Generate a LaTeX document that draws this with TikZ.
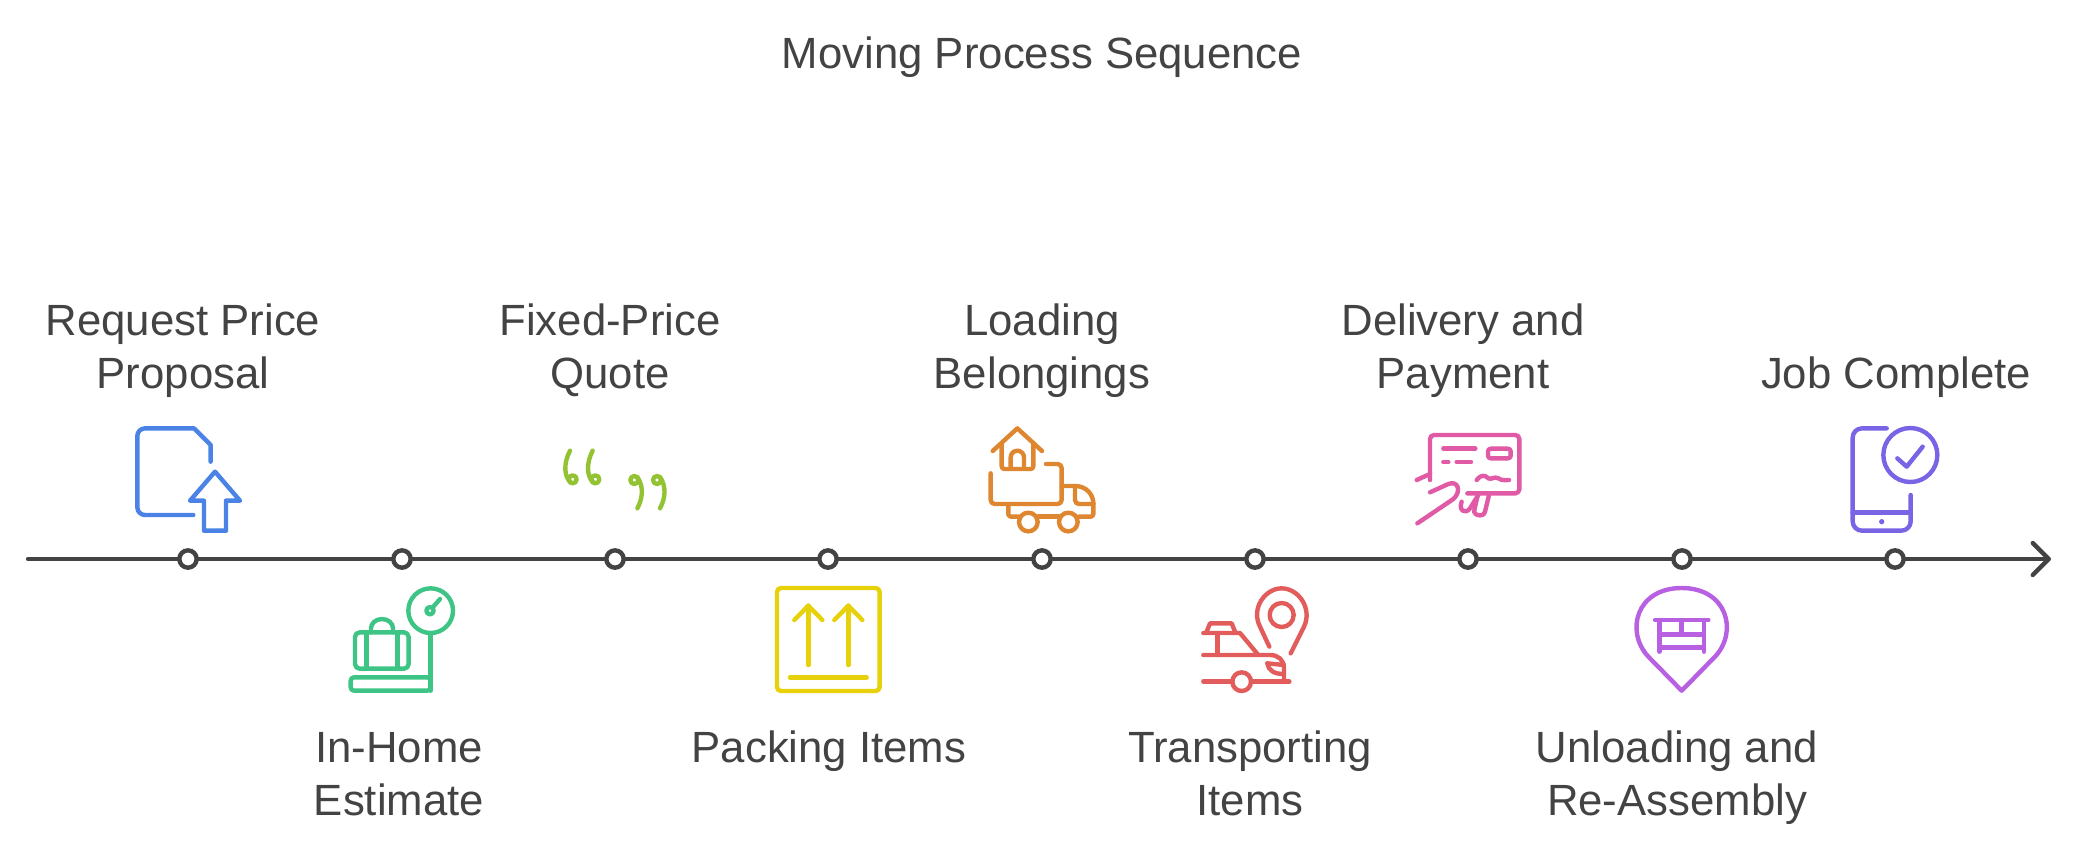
\documentclass[tikz,border=0pt]{standalone}
\usepackage{fontspec}
\usepackage{tikz}
\usetikzlibrary{arrows.meta}
\setmainfont{Liberation Sans}
\definecolor{inkgray}{HTML}{434343}
\definecolor{iconblue}{HTML}{4A82E6}
\definecolor{icongreen}{HTML}{3EC485}
\definecolor{iconlime}{HTML}{93C332}
\definecolor{iconyellow}{HTML}{E6D10B}
\definecolor{iconorange}{HTML}{DF8630}
\definecolor{iconred}{HTML}{E25C5C}
\definecolor{iconpink}{HTML}{E05AA5}
\definecolor{iconpurple}{HTML}{B860E2}
\definecolor{iconviolet}{HTML}{7A64E6}
\tikzset{
  lbl/.style={inner sep=0, text=inkgray, align=center, font=\fontsize{32.8}{39.75}\selectfont},
  upper/.style={lbl, anchor=south},
  lower/.style={lbl, anchor=north},
  marker/.style={circle, draw=inkgray, fill=white, line width=3.3pt, inner sep=0, minimum size=13pt},
  axisline/.style={draw=inkgray, line width=3.3pt, line cap=round},
  icon/.style={line width=3.3pt, line cap=round, line join=round, draw=#1},
  zoomed/.style={x=0.25pt, y=-0.25pt}
}

\begin{document}
\begin{tikzpicture}[x=0.75pt, y=-0.75pt]
  \useasboundingbox (0,0) rectangle (2080,854);
  \node[lbl] (title) at (1042,57) {Moving Process Sequence};

  % time line
  \coordinate (axisstart) at (28,559);
  \coordinate (axisend) at (2051,559);
  \draw[axisline, -{Straight Barb[length=12pt, width=24pt, line width=3.3pt, round]}] (axisstart) -- (axisend);
  \foreach \i/\x in {1/188, 2/402, 3/615, 4/828, 5/1042, 6/1255, 7/1468, 8/1682, 9/1895}
    \node[marker] (m\i) at (\x,559) {};

  % labels
  \node[upper] (request) at (183,405) {Request Price\\Proposal\strut};
  \node[lower] (estimate) at (399,725) {\strut In-Home\\Estimate};
  \node[upper] (quote) at (610,405) {Fixed-Price\\Quote\strut};
  \node[lower] (packing) at (829,725) {\strut Packing Items};
  \node[upper] (loading) at (1042,405) {Loading\\Belongings\strut};
  \node[lower] (transport) at (1250,725) {\strut Transporting\\Items};
  \node[upper] (delivery) at (1463,405) {Delivery and\\Payment\strut};
  \node[lower] (unloading) at (1677,725) {\strut Unloading and\\Re-Assembly};
  \node[upper] (complete) at (1896,405) {Job Complete\strut};

  % request
  \begin{scope}[shift={(100,400)}, zoomed, icon=iconblue]
    \draw (332,185) -- (332,135) -- (282,85) -- (135,85) to[out=180,in=90] (112,108) -- (112,322) to[out=270,in=180] (135,345) -- (280,345);
    \draw (345,215) -- (420,302) -- (378,302) -- (378,392) -- (312,392) -- (312,302) -- (270,302) -- cycle;
  \end{scope}

  % scale with suitcase
  \begin{scope}[shift={(100,400)}, zoomed, icon=icongreen]
    \draw (992,632) circle (67);
    \draw (992,700) -- (992,872);
    \draw[rounded corners=2.5pt] (752,832) rectangle (992,872);
    \draw[rounded corners=3.5pt] (765,697) rectangle (926,806);
    \draw (800,697) -- (800,806);
    \draw (892,697) -- (892,806);
    \draw (813,697) -- (813,685) arc (180:360:33 and 28) -- (879,697);
    \draw (990,632) circle (11);
    \draw (1000,620) -- (1020,597);
  \end{scope}

  % quotes
  \begin{scope}[shift={(520,400)}, zoomed, icon=iconlime]
    \foreach \d in {0,68} {
      \draw (150+\d,152) .. controls (130+\d,190) and (132+\d,230) .. (152+\d,247);
      \draw (158+\d,238) circle (12);
      \draw (352+\d,231) .. controls (372+\d,260) and (368+\d,295) .. (352+\d,325);
      \draw (343+\d,240) circle (12);
    }
  \end{scope}

  % this side up
  \begin{scope}[shift={(520,400)}, zoomed, icon=iconyellow]
    \draw[rounded corners=3pt] (771,564) rectangle (1079,873);
    \foreach \d in {0,120} {
      \draw (865+\d,795) -- (865+\d,617);
      \draw (823+\d,660) -- (865+\d,617) -- (907+\d,660);
    }
    \draw (810,832) -- (1040,832);
  \end{scope}

  % truck with house
  \begin{scope}[shift={(960,400)}, zoomed, icon=iconorange]
    \draw (98,153) -- (172,85) -- (246,153);
    \draw[rounded corners=2pt] (125,130) -- (125,207) -- (220,207) -- (220,130);
    \draw (152,205) -- (152,172) arc (180:360:20) -- (192,205);
    \draw[rounded corners=3pt] (92,220) -- (92,312) -- (305,312) -- (305,192) -- (258,192);
    \draw (305,258) -- (345,258) .. controls (380,258) and (400,285) .. (400,310);
    \draw[rounded corners=2pt] (400,310) -- (400,350) -- (355,350);
    \draw (297,350) -- (235,350);
    \draw[rounded corners=2pt] (178,350) -- (145,350) -- (145,312);
    \draw (205,366) circle (28);
    \draw (325,366) circle (28);
    \draw[rounded corners=3pt] (345,258) -- (345,312) -- (400,312);
  \end{scope}

  % car with pin
  \begin{scope}[shift={(960,400)}, zoomed, icon=iconred]
    \draw (965,645) circle (36);
    \draw (928,740) -- (900,680) .. controls (872,625) and (915,565) .. (965,565) .. controls (1015,565) and (1058,625) .. (1032,680) -- (992,760);
    \draw (740,695) -- (750,670) -- (815,670) -- (825,695);
    \draw (730,699) -- (840,699) -- (895,765);
    \draw (772,699) -- (772,765);
    \draw (730,765) -- (930,765) .. controls (955,765) and (972,780) .. (972,805) -- (972,845);
    \draw (730,845) -- (817,845);
    \draw (873,845) -- (988,845);
    \draw (845,845) circle (28);
    \draw (922,790) .. controls (925,810) and (940,822) .. (972,822);
    \draw (922,790) -- (972,795);
  \end{scope}

  % card with signature
  \begin{scope}[shift={(1390,400)}, zoomed, icon=iconpink]
    \draw[rounded corners=3pt] (120,240) -- (120,105) -- (388,105) -- (388,280) -- (232,280);
    \draw (160,146) -- (256,146);
    \draw[rounded corners=2pt] (294,146) rectangle (362,175);
    \draw (160,186) -- (175,186);
    \draw (200,186) -- (243,186);
    \draw (260,240) .. controls (275,222) and (285,225) .. (295,235) .. controls (305,240) and (312,228) .. (325,235) .. controls (335,242) and (345,240) .. (357,240);
    \draw (80,240) -- (120,222);
    \draw (120,277) -- (175,252) .. controls (205,240) and (215,275) .. (190,297) -- (82,370);
    \draw (215,305) .. controls (205,330) and (225,345) .. (240,325) -- (265,285);
    \draw (262,290) -- (252,335) .. controls (255,350) and (285,350) .. (285,335) -- (297,285);
  \end{scope}

  % pin with table
  \begin{scope}[shift={(1390,400)}, zoomed, icon=iconpurple]
    \draw (875,872) -- (775,770) .. controls (705,695) and (738,564) .. (875,564) .. controls (1012,564) and (1045,695) .. (975,770) -- cycle;
    \draw (795,660) -- (955,660);
    \draw (808,660) -- (808,755);
    \draw (942,660) -- (942,755);
    \draw (808,703) -- (942,703);
    \draw (808,742) -- (942,742);
    \draw (875,660) -- (875,703);
  \end{scope}

  % phone with check
  \begin{scope}[shift={(1780,400)}, zoomed, icon=iconviolet]
    \draw[rounded corners=7pt] (320,85) -- (218,85) -- (218,392) -- (392,392) -- (392,285);
    \draw (218,338) -- (392,338);
    \fill[iconviolet] (305,365) circle (8);
    \draw (391,165) circle (81);
    \draw (352,175) -- (380,200) -- (428,140);
  \end{scope}
\end{tikzpicture}
\end{document}
